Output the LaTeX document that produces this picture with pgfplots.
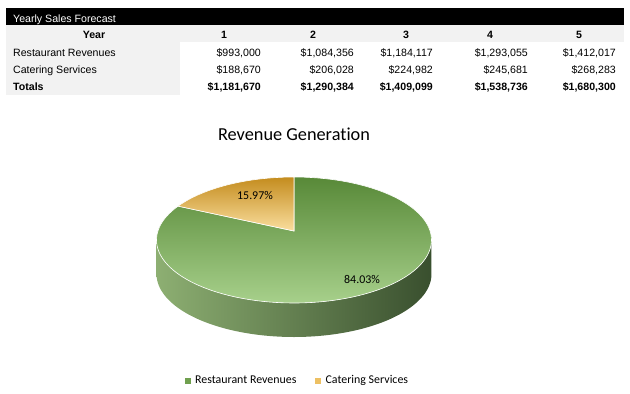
\documentclass[border=0pt]{standalone}
\usepackage{pgfplots}
\pgfplotsset{compat=1.18}
\usepackage{pgfplotstable}
\usepackage{fontspec}
\setmainfont{Liberation Sans}
\newfontfamily\carlito{Carlito}[Ligatures=NoCommon]

\definecolor{tgray}{HTML}{F2F2F2}
\definecolor{gtop}{HTML}{588938}
\definecolor{gbot}{HTML}{A7D08B}
\definecolor{sidel}{HTML}{8DAF72}
\definecolor{sidem}{HTML}{5E7F4A}
\definecolor{sider}{HTML}{394F2E}
\definecolor{otop}{HTML}{C48C1E}
\definecolor{obot}{HTML}{FADE9E}
\definecolor{leggreen}{HTML}{70A04F}
\definecolor{legorange}{HTML}{EDC063}

% Year-1 revenue shares (percent)
\pgfplotstableread{
label value
Restaurant 84.03
Catering 15.97
}\piedata
\pgfplotstablegetelem{0}{value}\of\piedata \let\va\pgfplotsretval
\pgfplotstablegetelem{1}{value}\of\piedata \let\vb\pgfplotsretval
\pgfmathsetmacro{\aStart}{90}
\pgfmathsetmacro{\aMid}{90+3.6*\vb}
\pgfmathsetmacro{\aEnd}{90+3.6*(\va+\vb)}

\newcommand{\tf}{\fontsize{10.6}{12}\selectfont}
\newcommand{\cf}{\carlito\fontsize{11.9}{13}\selectfont}
\tikzset{tc/.style={anchor=base, font=\tf\bfseries, inner sep=0pt},
         tr/.style={anchor=base east, font=\tf, inner sep=0pt},
         tb/.style={anchor=base east, font=\tf\bfseries, inner sep=0pt}}

\begin{document}
\begin{tikzpicture}
\begin{axis}[
  scale only axis, width=630pt, height=394pt,
  xmin=0, xmax=630, ymin=0, ymax=394, y dir=reverse,
  hide axis, clip=false,
  legend style={at={(axis cs:296.5,380.5)}, anchor=center, draw=none, fill=none,
    font=\cf, inner sep=0pt, nodes={inner sep=0pt}, legend columns=2,
    /tikz/every even column/.append style={column sep=19pt}},
  legend image code/.code={\fill[#1] (0pt,-2.5pt) rectangle (5pt,2.5pt); \path[draw=none] (10pt,0pt);},
]
\path (axis cs:0,0) rectangle (axis cs:630,394);
% ---------- table ----------
\fill[black] (axis cs:6,7.5) rectangle (axis cs:624,25);
\fill[tgray] (axis cs:6,25) rectangle (axis cs:624,42);
\fill[tgray] (axis cs:6,42) rectangle (axis cs:180,95);
\node[anchor=base west, text=white, font=\tf, inner sep=0pt] at (axis cs:13,22.3) {Yearly Sales Forecast};
\node[tc] at (axis cs:94,38.5) {Year};
\node[tc] at (axis cs:224,38.5) {1};
\node[tc] at (axis cs:313,38.5) {2};
\node[tc] at (axis cs:406,38.5) {3};
\node[tc] at (axis cs:490,38.5) {4};
\node[tc] at (axis cs:579,38.5) {5};
\node[anchor=base west, font=\tf, inner sep=0pt] at (axis cs:13,56.8) {Restaurant Revenues};
\node[anchor=base west, font=\tf, inner sep=0pt] at (axis cs:13,73.8) {Catering Services};
\node[anchor=base west, font=\tf\bfseries, inner sep=0pt] at (axis cs:13,90.6) {Totals};
\node[tr] at (axis cs:261,56.8) {\$993,000};
\node[tr] at (axis cs:261,73.8) {\$188,670};
\node[tb] at (axis cs:261,90.6) {\$1,181,670};
\node[tr] at (axis cs:354,56.8) {\$1,084,356};
\node[tr] at (axis cs:354,73.8) {\$206,028};
\node[tb] at (axis cs:354,90.6) {\$1,290,384};
\node[tr] at (axis cs:433,56.8) {\$1,184,117};
\node[tr] at (axis cs:433,73.8) {\$224,982};
\node[tb] at (axis cs:433,90.6) {\$1,409,099};
\node[tr] at (axis cs:528,56.8) {\$1,293,055};
\node[tr] at (axis cs:528,73.8) {\$245,681};
\node[tb] at (axis cs:528,90.6) {\$1,538,736};
\node[tr] at (axis cs:616,56.8) {\$1,412,017};
\node[tr] at (axis cs:616,73.8) {\$268,283};
\node[tb] at (axis cs:616,90.6) {\$1,680,300};
% ---------- pie ----------
\node[anchor=base, font=\carlito\fontsize{18.3}{20}\selectfont, inner sep=0pt] at (axis cs:294,140) {Revenue Generation};
% side of the cylinder
\addplot[draw=none, left color=sidel, middle color=sidem, right color=sider, domain=0:360, samples=181, forget plot]
  ({294+137.5*cos(x<=180 ? 180+x : 540-x)}, {240-63*sin(x<=180 ? 180+x : 540-x) + (x<=180 ? 0 : 34)});
% Restaurant slice
\addplot[draw=white, line width=0.6pt, top color=gtop, bottom color=gbot, domain=\aMid:\aEnd, samples=120, forget plot]
  ({294+137.5*cos(x)}, {240-63*sin(x)}) -- (axis cs:294,231) -- cycle;
% Catering slice
\addplot[draw=white, line width=0.6pt, top color=otop, bottom color=obot, domain=\aStart:\aMid, samples=40, forget plot]
  ({294+137.5*cos(x)}, {240-63*sin(x)}) -- (axis cs:294,231) -- cycle;
\node[font=\cf, inner sep=0pt] at (axis cs:255,195.5) {15.97\%};
\node[font=\cf, inner sep=0pt] at (axis cs:362,279.5) {84.03\%};
% legend
\addlegendimage{leggreen}
\addlegendentry{Restaurant Revenues}
\addlegendimage{legorange}
\addlegendentry{Catering Services}
\end{axis}
\end{tikzpicture}
\end{document}
